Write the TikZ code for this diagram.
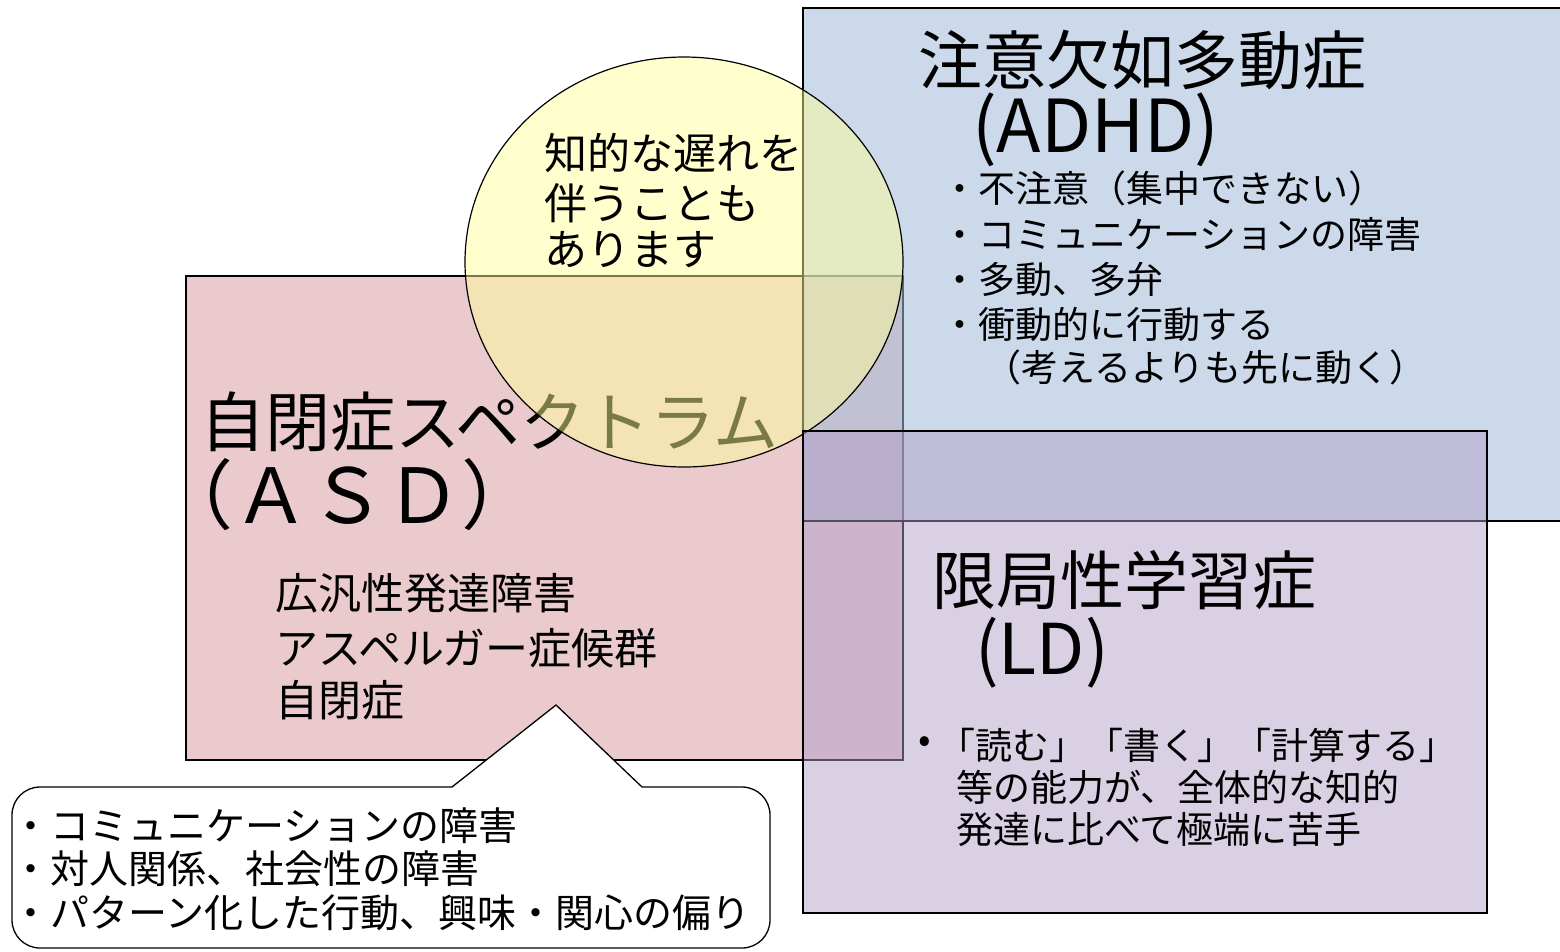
\documentclass[tikz,border=0pt]{standalone}
\usepackage{fontspec}
\setmainfont{Noto Sans CJK JP}
\newcommand{\fsz}[1]{\fontsize{#1}{#1}\selectfont}
\definecolor{asdc}{HTML}{EBCACD}
\definecolor{adhdc}{HTML}{A2BAD9}
\definecolor{circc}{HTML}{FFFF99}
\definecolor{ldc}{HTML}{B09DC7}
\begin{document}
\begin{tikzpicture}[x=1pt,y=-1pt,
  box/.style={draw=black,line width=1.3pt},
  txt/.style={anchor=west,inner sep=0pt,text=black},
  big/.style={txt,font=\fsz{64}},
  abbr/.style={txt,font=\fsz{73}},
  mid/.style={txt,font=\fsz{43}},
  sml/.style={txt,font=\fsz{37}},
  lds/.style={txt,font=\fsz{37}},
  cls/.style={txt,font=\fsz{39}}]
\useasboundingbox (0,0) rectangle (1560,951);
% ASD
\draw[box,fill=asdc] (186,276) rectangle (903,760);
\node[txt,font=\fsz{65}] (asdT) at (200,422) {自閉症スペクトラム};
\node[txt,font=\fsz{76}] (asdA) at (157,495) {（ＡＳＤ）};
\node[mid] (asd1) at (275,593) {広汎性発達障害};
\node[mid] (asd2) at (275,648) {アスペルガー症候群};
\node[mid] (asd3) at (275,700) {自閉症};
% ADHD
\draw[box,fill=adhdc,fill opacity=0.55] (803,8) rectangle (1575,521);
\node[big] (adT) at (918,60) {注意欠如多動症};
\node[abbr] (adA) at (972,130) {(ADHD)};
\node[sml] (ad1) at (941,188) {・不注意（集中できない）};
\node[sml] (ad2) at (941,234) {・コミュニケーションの障害};
\node[sml] (ad3) at (941,279) {・多動、多弁};
\node[sml] (ad4) at (941,324) {・衝動的に行動する};
\node[sml] (ad5) at (984,367) {（考えるよりも先に動く）};
% circle
\draw[line width=1.2pt,fill=circc,fill opacity=0.48] (684,262) ellipse [x radius=219,y radius=205];
\node[mid] (c1) at (544,153) {知的な遅れを};
\node[mid] (c2) at (544,203) {伴うことも};
\node[mid] (c3) at (544,250) {あります};
% LD
\draw[box,fill=ldc,fill opacity=0.48] (803,431) rectangle (1487,913);
\node[big] (ldT) at (932,580) {限局性学習症};
\node[txt,font=\fsz{70}] (ldA) at (975,653) {(LD)};
\node[lds] (ldb) at (918,745) {•};
\node[lds] (ld1) at (938,745) {「読む」「書く」「計算する」};
\node[lds] (ld2) at (956,787) {等の能力が、全体的な知的};
\node[lds] (ld3) at (956,830) {発達に比べて極端に苦手};
% callout
\draw[line width=1.3pt,fill=white] (556,705) -- (452,787) -- (300,787)
  [rounded corners=28] -- (12,787) -- (12,948) -- (770,948) -- (770,787) -- (700,787)
  [sharp corners] -- (642,787) -- cycle;
\node[cls] (k1) at (11,826) {・コミュニケーションの障害};
\node[cls] (k2) at (11,869) {・対人関係、社会性の障害};
\node[cls] (k3) at (11,913) {・パターン化した行動、興味・関心の偏り};
\end{tikzpicture}
\end{document}
